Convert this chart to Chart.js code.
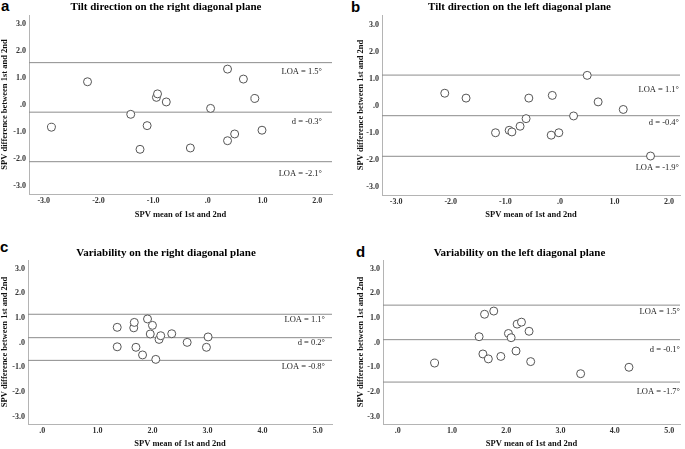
<!DOCTYPE html>
<html lang="en">
<head>
    <meta charset="UTF-8">
    <title>Bland-Altman plots of SPV</title>
    <script src="https://cdn.jsdelivr.net/npm/chart.js"></script>
    <style>
        * {
            box-sizing: border-box;
            margin: 0;
            padding: 0;
        }

        body {
            background: #ffffff;
            width: 685px;
            height: 449px;
            position: relative;
            overflow: hidden;
        }

        canvas {
            position: absolute;
        }

        .panel-letter {
            position: absolute;
            font-family: "Liberation Sans", Arial, sans-serif;
            font-weight: bold;
            font-size: 15px;
            line-height: 15px;
            color: #000;
        }
    </style>
</head>
<body>
    <div class="panel-letter" style="left:1px; top:-2px;">a</div>
    <div class="panel-letter" style="left:351px; top:-1px;">b</div>
    <div class="panel-letter" style="left:0px; top:239px;">c</div>
    <div class="panel-letter" style="left:356px; top:244px;">d</div>

    <canvas id="chartA" width="340" height="222" style="left:0; top:0;"></canvas>
    <canvas id="chartB" width="345" height="222" style="left:340px; top:0;"></canvas>
    <canvas id="chartC" width="340" height="211" style="left:0; top:238px;"></canvas>
    <canvas id="chartD" width="345" height="211" style="left:340px; top:238px;"></canvas>

    <script>
        // Tick values shared by the panels
        const yTicks = [-3, -2, -1, 0, 1, 2, 3];
        const xTicksTilt = [-3, -2, -1, 0, 1, 2];
        const xTicksVar = [0, 1, 2, 3, 4, 5];

        // a - tilt direction, right diagonal plane
        const aMean = [-2.86, -2.20, -1.41, -1.24, -1.11, -0.94, -0.92, -0.76, -0.32, 0.05, 0.36, 0.36, 0.49, 0.65, 0.86, 0.99];
        const aDiff = [-0.82, 0.87, -0.34, -1.64, -0.76, 0.29, 0.42, 0.12, -1.59, -0.12, 1.34, -1.32, -1.07, 0.97, 0.25, -0.93];
        const aLines = [1.58, -0.26, -2.10];
        const aLabels = ['LOA = 1.5°', 'd = -0.3°', 'LOA = -2.1°'];

        // b - tilt direction, left diagonal plane
        const bMean = [-2.11, -1.72, -1.18, -0.93, -0.88, -0.73, -0.62, -0.57, -0.16, -0.14, -0.02, 0.25, 0.50, 0.70, 1.16, 1.66];
        const bDiff = [0.46, 0.28, -1.00, -0.91, -0.97, -0.76, -0.48, 0.28, -1.09, 0.38, -1.00, -0.38, 1.12, 0.14, -0.14, -1.86];
        const bLines = [1.13, -0.37, -1.87];
        const bLabels = ['LOA = 1.1°', 'd = -0.4°', 'LOA = -1.9°'];

        // c - variability, right diagonal plane
        const cMean = [1.36, 1.36, 1.66, 1.67, 1.70, 1.82, 1.91, 1.96, 2.00, 2.06, 2.12, 2.15, 2.35, 2.63, 2.98, 3.01];
        const cDiff = [0.62, -0.17, 0.60, 0.82, -0.19, -0.50, 0.96, 0.35, 0.70, -0.68, 0.13, 0.28, 0.36, 0.01, -0.19, 0.23];
        const cLines = [1.15, 0.20, -0.72];
        const cLabels = ['LOA = 1.1°', 'd = 0.2°', 'LOA = -0.8°'];

        // d - variability, left diagonal plane
        const dMean = [0.68, 1.50, 1.57, 1.60, 1.67, 1.77, 1.90, 2.04, 2.09, 2.18, 2.20, 2.28, 2.42, 2.45, 3.37, 4.26];
        const dDiff = [-0.83, 0.24, -0.46, 1.15, -0.66, 1.28, -0.56, 0.37, 0.20, -0.34, 0.75, 0.83, 0.46, -0.77, -1.26, -1.00];
        const dLines = [1.52, 0.12, -1.60];
        const dLabels = ['LOA = 1.5°', 'd = -0.1°', 'LOA = -1.7°'];

        const SERIF = '"Liberation Serif", "Times New Roman", serif';

        // draws the LOA / mean text under each horizontal line
        const lineLabels = {
            id: 'lineLabels',
            afterDatasetsDraw(chart, args, opts) {
                const { ctx, chartArea, scales: { y } } = chart;
                ctx.save();
                ctx.font = '8.5px ' + SERIF;
                ctx.fillStyle = '#222';
                ctx.textAlign = 'right';
                ctx.textBaseline = 'middle';
                opts.values.forEach((v, i) => {
                    ctx.fillText(opts.labels[i], chartArea.right - opts.inset, y.getPixelForValue(v) + opts.offsets[i]);
                });
                ctx.restore();
            }
        };

        function fmt(v) {
            return v === 0 ? '.0' : v.toFixed(1);
        }

        function makePanel(id, p) {
            const points = p.mean.map((m, i) => ({ x: m, y: p.diff[i] }));
            const lineSets = p.lines.map(v => ({
                type: 'line',
                data: [{ x: p.xMin, y: v }, { x: p.xMax, y: v }],
                borderColor: '#8c8c8c',
                borderWidth: 1,
                pointRadius: 0,
                fill: false
            }));

            new Chart(document.getElementById(id), {
                type: 'scatter',
                data: {
                    datasets: [{
                        data: points,
                        pointRadius: 4,
                        pointBorderWidth: 1,
                        pointBorderColor: '#555',
                        pointBackgroundColor: '#fff'
                    }].concat(lineSets)
                },
                plugins: [lineLabels],
                options: {
                    responsive: false,
                    animation: false,
                    layout: { padding: { left: p.padL, right: p.padR, top: 0, bottom: 0 } },
                    plugins: {
                        legend: { display: false },
                        tooltip: { enabled: false },
                        title: {
                            display: true,
                            text: p.title,
                            color: '#000',
                            font: { family: SERIF, size: 11, weight: 'bold' },
                            padding: { top: p.titleTop, bottom: p.titleBottom }
                        },
                        lineLabels: {
                            values: p.lines,
                            labels: p.labels,
                            offsets: p.labelOffsets,
                            inset: p.labelInset
                        }
                    },
                    scales: {
                        x: {
                            type: 'linear',
                            min: p.xMin,
                            max: p.xMax,
                            grid: { display: false, drawTicks: false },
                            border: { display: true, color: '#b4b4b4', width: 1 },
                            ticks: {
                                color: '#333',
                                font: { family: SERIF, size: 8, weight: 'bold' },
                                padding: p.xTickPad,
                                maxRotation: 0,
                                callback: fmt
                            },
                            afterBuildTicks: s => { s.ticks = p.xTicks.map(v => ({ value: v })); },
                            afterFit: s => { s.height = p.xAxisH; },
                            title: {
                                display: true,
                                text: 'SPV mean of 1st and 2nd',
                                color: '#111',
                                font: { family: SERIF, size: 8.5, weight: 'bold' },
                                padding: { top: 0, bottom: p.xTitleBottom }
                            }
                        },
                        y: {
                            min: -3.3,
                            max: 3.35,
                            grid: { display: false, drawTicks: false },
                            border: { display: true, color: '#b4b4b4', width: 1 },
                            ticks: {
                                color: '#333',
                                font: { family: SERIF, size: 8, weight: 'bold' },
                                padding: 3,
                                callback: fmt
                            },
                            afterBuildTicks: s => { s.ticks = yTicks.map(v => ({ value: v })); },
                            afterFit: s => { s.width = p.yAxisW; },
                            title: {
                                display: true,
                                text: 'SPV difference between 1st and 2nd',
                                color: '#111',
                                font: { family: SERIF, size: 8.5, weight: 'bold' },
                                padding: { top: 0, bottom: 0 }
                            }
                        }
                    }
                }
            });
        }

        makePanel('chartA', {
            title: 'Tilt direction on the right diagonal plane',
            mean: aMean, diff: aDiff, lines: aLines, labels: aLabels,
            xMin: -3.27, xMax: 2.27, xTicks: xTicksTilt,
            padL: 0, padR: 8, yAxisW: 29, xAxisH: 28,
            titleTop: 0.7, titleBottom: 1.1, xTickPad: 2.5, xTitleBottom: 1.9,
            labelOffsets: [9, 9.5, 12], labelInset: 10
        });

        makePanel('chartB', {
            title: 'Tilt direction on the left diagonal plane',
            mean: bMean, diff: bDiff, lines: bLines, labels: bLabels,
            xMin: -3.26, xMax: 2.2, xTicks: xTicksTilt,
            padL: 16, padR: 2, yAxisW: 26, xAxisH: 27,
            titleTop: 0.7, titleBottom: 1.1, xTickPad: 2.5, xTitleBottom: 1.9,
            labelOffsets: [15, 7, 11], labelInset: 1
        });

        makePanel('chartC', {
            title: 'Variability on the right diagonal plane',
            mean: cMean, diff: cDiff, lines: cLines, labels: cLabels,
            xMin: -0.26, xMax: 5.26, xTicks: xTicksVar,
            padL: 0, padR: 8, yAxisW: 28, xAxisH: 25,
            titleTop: 8.7, titleBottom: 0.1, xTickPad: 2.5, xTitleBottom: 0.3,
            labelOffsets: [6, 5.5, 6.5], labelInset: 7
        });

        makePanel('chartD', {
            title: 'Variability on the left diagonal plane',
            mean: dMean, diff: dDiff, lines: dLines, labels: dLabels,
            xMin: -0.27, xMax: 5.2, xTicks: xTicksVar,
            padL: 16, padR: 2, yAxisW: 27, xAxisH: 25,
            titleTop: 8.7, titleBottom: 0.1, xTickPad: 2.5, xTitleBottom: 0.3,
            labelOffsets: [6.5, 10, 10], labelInset: 0
        });
    </script>
</body>
</html>
